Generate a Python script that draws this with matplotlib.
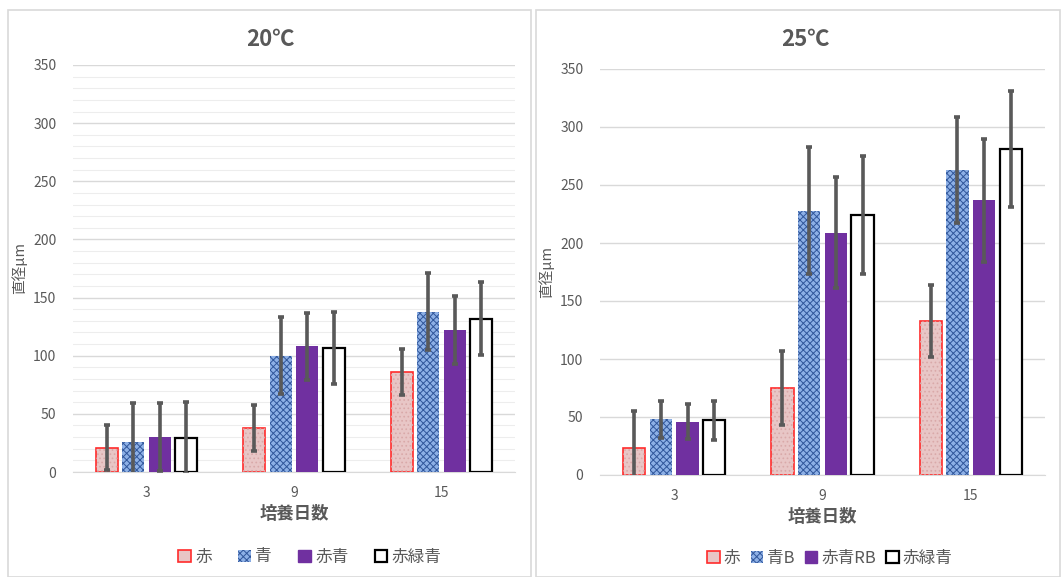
import matplotlib.pyplot as plt
import matplotlib.patches as patches
from matplotlib.ticker import MultipleLocator
import numpy as np

plt.rcParams['font.family'] = ['Noto Sans CJK JP', 'DejaVu Sans']
plt.rcParams['hatch.linewidth'] = 0.7

# data
days = ['3', '9', '15']

t20_red = [21, 38, 86]
t20_blue = [26, 100, 138]
t20_purple = [30, 108, 122]
t20_white = [29, 107, 132]
t20_red_err = [19, 20, 20]
t20_blue_err = [33, 33, 33]
t20_purple_err = [29, 29, 29]
t20_white_err = [31, 31, 31]
t20_labels = ['赤', '青', '赤青', '赤緑青']

t25_red = [23, 75, 133]
t25_blue = [48, 228, 263]
t25_purple = [46, 209, 237]
t25_white = [47, 224, 281]
t25_red_err = [32, 32, 31]
t25_blue_err = [16, 55, 46]
t25_purple_err = [15, 48, 53]
t25_white_err = [17, 51, 50]
t25_labels = ['赤', '青B', '赤青RB', '赤緑青']

TXT = '#595959'
GRID = '#D9D9D9'

W, H = 1061, 577
fig = plt.figure(figsize=(W / 100, H / 100), dpi=100)


def px(x0, y0, x1, y1):
    # pixel box -> figure fraction [left, bottom, width, height]
    return [x0 / W, 1 - y1 / H, (x1 - x0) / W, (y1 - y0) / H]


# panel frames
for x0, x1 in [(8, 531), (536, 1060)]:
    fig.add_artist(patches.Rectangle((x0 / W, 0), (x1 - x0) / W, 1 - 10 / H,
                                     transform=fig.transFigure, facecolor='white',
                                     edgecolor=GRID, linewidth=1.2, zorder=-5))


def draw_panel(ax, series, errs, labels, title, title_xy, minor, legend_xy, legend_sp):
    x = np.arange(len(days))
    width = 0.15
    step = 0.18
    offs = [-1.5 * step, -0.5 * step, 0.5 * step, 1.5 * step]
    ekw = dict(ecolor='#595959', elinewidth=2.6, capsize=2.5, capthick=2.6)

    ax.set_facecolor('none')
    ax.bar(x + offs[0], series[0], width, color='#E8C6C6', edgecolor='#FF2B2B',
           linewidth=1.2, zorder=3)
    ax.bar(x + offs[0], series[0], width, facecolor='none', edgecolor='#D9A9A9',
           hatch='....', linewidth=0, zorder=3)
    ax.bar(x + offs[1], series[1], width, color='#8DB0E6', linewidth=0, zorder=3)
    ax.bar(x + offs[1], series[1], width, facecolor='none', edgecolor='#30569A',
           hatch='xxxxx', linewidth=0, zorder=3)
    ax.bar(x + offs[2], series[2], width, color='#7030A0', linewidth=0, zorder=3)
    ax.bar(x + offs[3], series[3], width, color='white', edgecolor='black',
           linewidth=1.6, zorder=3)
    for o, s, e in zip(offs, series, errs):
        ax.errorbar(x + o, s, yerr=e, fmt='none', zorder=4, **ekw)

    ax.set_ylim(0, 350)
    ax.set_xlim(-0.5, 2.5)
    ax.yaxis.set_major_locator(MultipleLocator(50))
    ax.set_xticks(x, days)
    ax.tick_params(length=0, labelsize=10, colors=TXT)
    ax.tick_params(axis='y', pad=12)
    ax.tick_params(axis='x', pad=10)
    ax.grid(axis='y', which='major', color=GRID, linewidth=1, zorder=0)
    if minor:
        ax.yaxis.set_minor_locator(MultipleLocator(10))
        ax.grid(axis='y', which='minor', color='#EDEDED', linewidth=0.8, zorder=0)
        ax.tick_params(which='minor', length=0)
    for s in ['top', 'right', 'left']:
        ax.spines[s].set_visible(False)
    ax.spines['bottom'].set_color(GRID)
    ax.set_axisbelow(True)
    fig.text(title_xy[0], title_xy[1], title, ha='center', va='center',
             fontsize=16, fontweight='bold', color=TXT)
    ax.set_xlabel('培養日数', fontsize=12.5, fontweight='bold', color=TXT, labelpad=4)
    ax.set_ylabel('直径µm', fontsize=10.5, color=TXT, labelpad=4)

    handles = [patches.Patch(facecolor='#E8C6C6', edgecolor='#FF2B2B', linewidth=1.2),
               patches.Patch(facecolor='#8DB0E6', edgecolor='#30569A', hatch='xxxxx', linewidth=0),
               patches.Patch(facecolor='#7030A0', edgecolor='#7030A0'),
               patches.Patch(facecolor='white', edgecolor='black', linewidth=1.6)]
    fig.legend(handles, labels, loc='center', bbox_to_anchor=legend_xy, ncol=4,
               frameon=False, fontsize=12, labelcolor=TXT, handlelength=0.75,
               handleheight=0.75, handletextpad=0.25, columnspacing=legend_sp)


ax1 = fig.add_axes(px(73, 65, 515, 472))
draw_panel(ax1, [t20_red, t20_blue, t20_purple, t20_white],
           [t20_red_err, t20_blue_err, t20_purple_err, t20_white_err],
           t20_labels, '20℃', (270 / W, 1 - 39 / H), True, (310 / W, 1 - 557 / H), 1.6)

ax2 = fig.add_axes(px(600, 69, 1045, 475))
draw_panel(ax2, [t25_red, t25_blue, t25_purple, t25_white],
           [t25_red_err, t25_blue_err, t25_purple_err, t25_white_err],
           t25_labels, '25℃', (805 / W, 1 - 39 / H), False, (830 / W, 1 - 558 / H), 0.6)

fig.savefig('out.png', dpi=100)
